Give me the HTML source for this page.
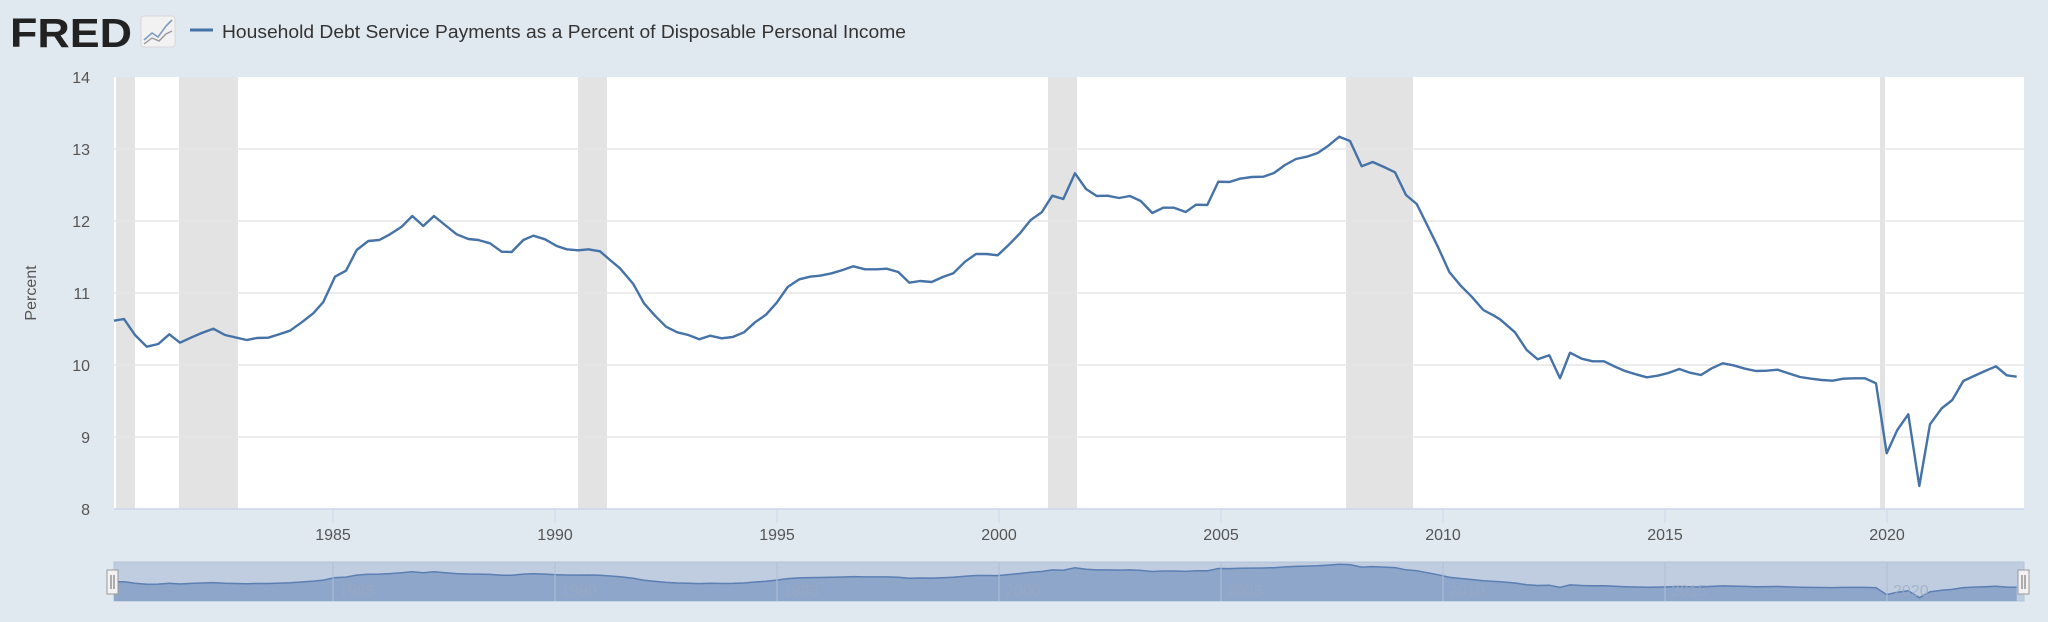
<!DOCTYPE html>
<html><head><meta charset="utf-8"><style>
html,body{margin:0;padding:0;background:#e1e9f0;width:2048px;height:622px;overflow:hidden}
svg{display:block}
text{font-family:"Liberation Sans",sans-serif}
</style></head><body>
<svg id="s" width="2048" height="622" viewBox="0 0 2048 622" xmlns="http://www.w3.org/2000/svg">
<rect width="2048" height="622" fill="#e1e9f0"/>
<!-- logo -->
<text x="10" y="47" font-size="41" font-weight="bold" fill="#222" textLength="122" lengthAdjust="spacingAndGlyphs">FRED</text>
<rect x="141" y="16" width="34" height="31" rx="3" fill="#f2f2f2" stroke="#d8d8d8"/>
<polyline points="144,40 152,33 158,37 166,26 172,20" fill="none" stroke="#7f9cc4" stroke-width="1.6"/>
<polyline points="144,44 152,38 159,41 166,34 172,31" fill="none" stroke="#999" stroke-width="1.4"/>
<line x1="190" y1="30" x2="213" y2="30" stroke="#4572a7" stroke-width="3"/>
<text x="222" y="38" font-size="18" fill="#333" textLength="684" lengthAdjust="spacingAndGlyphs">Household Debt Service Payments as a Percent of Disposable Personal Income</text>
<!-- plot -->
<rect x="114" y="77" width="1910" height="432" fill="#fff"/>
<g fill="#e3e3e3">
<rect x="116" y="77" width="19" height="432"/>
<rect x="179" y="77" width="59" height="432"/>
<rect x="578" y="77" width="29" height="432"/>
<rect x="1048" y="77" width="29" height="432"/>
<rect x="1346" y="77" width="67" height="432"/>
<rect x="1880" y="77" width="5" height="432"/>
</g>
<g stroke="#e6e6e6" stroke-width="1.5">
<line x1="114" x2="2024" y1="149" y2="149"/><line x1="114" x2="2024" y1="221" y2="221"/>
<line x1="114" x2="2024" y1="293" y2="293"/><line x1="114" x2="2024" y1="365" y2="365"/>
<line x1="114" x2="2024" y1="437" y2="437"/>
</g>
<line x1="114" x2="2024" y1="509" y2="509" stroke="#ccd6eb" stroke-width="1.5"/>
<g font-size="16" fill="#555" text-anchor="end">
<text x="90" y="83">14</text><text x="90" y="155">13</text><text x="90" y="227">12</text>
<text x="90" y="299">11</text><text x="90" y="371">10</text><text x="90" y="443">9</text><text x="90" y="515">8</text>
</g>
<text transform="translate(36,293) rotate(-90)" font-size="16" fill="#555" text-anchor="middle">Percent</text>
<g id="xt" font-size="16" fill="#555" text-anchor="middle"></g>
<path id="line" fill="none" stroke="#4572a7" stroke-width="2.4" stroke-linejoin="round"/>
<!-- navigator -->
<rect x="114" y="562" width="1910" height="39" fill="#c0cde0" stroke="#b5c3d8"/>
<path id="navarea" fill="#8ba3c8" opacity="0.95"/>
<path id="navline" fill="none" stroke="#5b7fb3" stroke-width="1.5"/>
<g id="nt" font-size="16" fill="#9aaac2" opacity="0.7"></g>
<rect x="107" y="570" width="11" height="24" fill="#f2f2f2" stroke="#999"/>
<line x1="111" y1="575" x2="111" y2="589" stroke="#666"/><line x1="114" y1="575" x2="114" y2="589" stroke="#666"/>
<rect x="2018" y="570" width="11" height="24" fill="#f2f2f2" stroke="#999"/>
<line x1="2022" y1="575" x2="2022" y2="589" stroke="#666"/><line x1="2025" y1="575" x2="2025" y2="589" stroke="#666"/>
</svg>
<script>
var z5=[[12,422],[42,417],[75,465],[110,500],[145,492],[178,463],[210,488],[245,472],[275,459],[310,446],[345,465],[410,480],[440,474],[475,473],[510,462],[540,452],[575,427],[610,400],[640,366],[675,290],[708,272],[740,210],[775,183],[808,180],[840,163],[875,140],[907,108],[940,138],[972,108],[1005,135],[1040,163],[1075,177],[1105,180],[1140,190],[1175,215],[1205,216],[1240,180],[1270,167],[1305,178],[1340,198],[1370,208],[1405,211],[1435,208],[1470,214],[1500,240]];
var z6=[[0,385],[40,432],[72,490],[105,527],[138,560],[172,577],[205,585],[238,598],[270,587],[305,595],[338,591],[372,577],[405,547],[438,524],[470,488],[503,441],[538,418],[570,410],[600,407],[635,400],[668,390],[700,379],[735,388],[770,388],[800,386],[835,396],[868,428],[900,423],[935,426],[968,411],[1000,400],[1035,365],[1068,342],[1100,342],[1133,346],[1165,316],[1200,280],[1232,240],[1265,217]];
var z7=[[97,257],[130,267],[165,190],[198,237],[230,258],[262,257],[297,264],[330,258],[362,273],[397,309],[430,293],[462,293],[497,306],[528,284],[562,285],[595,215],[628,216],[660,206],[695,201],[730,200],[762,189],[795,165],[828,147],[860,140],[893,129],[925,107],[958,80],[990,93],[1025,169],[1058,156],[1092,171],[1125,187],[1158,255],[1190,282],[1222,346],[1255,413],[1288,486],[1322,527],[1355,560],[1390,600],[1422,617]];
var z8=[[0,58],[45,97],[80,150],[113,178],[148,166],[180,235],[210,158],[245,176],[278,184],[312,184],[345,200],[375,213],[408,223],[440,232],[473,227],[505,219],[538,207],[570,218],[603,225],[635,205],[668,190],[700,196],[735,206],[768,213],[800,212],[833,209],[865,220],[900,231],[933,236],[965,240],[998,242],[1030,236],[1062,235],[1095,235],[1128,250],[1160,460],[1192,390],[1225,343],[1258,558],[1290,373],[1325,325],[1357,300],[1390,243],[1422,228],[1455,213],[1488,199],[1520,226],[1550,230]];
var P=[];
function add(a,x0,y0){a.forEach(function(p){P.push([x0+p[0]/3,y0+p[1]/3]);});}
add(z5,110,180);add(z6,620,140);add(z7,1020,110);add(z8,1500,300);
P[0][0]=114;
var d="M"+P.map(function(p){return p[0].toFixed(1)+","+p[1].toFixed(1)}).join("L");
document.getElementById("line").setAttribute("d",d);
var N=P.map(function(p){return [p[0],558.5+(p[1]-77)*0.0958]});
var nd="M"+N.map(function(p){return p[0].toFixed(1)+","+p[1].toFixed(1)}).join("L");
document.getElementById("navline").setAttribute("d",nd);
document.getElementById("navarea").setAttribute("d",nd+"L"+N[N.length-1][0].toFixed(1)+",601L114,601Z");
var ns="http://www.w3.org/2000/svg",xt=document.getElementById("xt"),nt=document.getElementById("nt"),s=document.getElementById("s");
for(var y=1985;y<=2020;y+=5){var x=333+(y-1985)*44.4;
var t=document.createElementNS(ns,"text");t.setAttribute("x",x);t.setAttribute("y",540);t.textContent=y;xt.appendChild(t);
var l=document.createElementNS(ns,"line");l.setAttribute("x1",x);l.setAttribute("x2",x);l.setAttribute("y1",509);l.setAttribute("y2",523);l.setAttribute("stroke","#ccd6eb");s.insertBefore(l,xt);
var t2=document.createElementNS(ns,"text");t2.setAttribute("x",x+6);t2.setAttribute("y",596);t2.textContent=y;nt.appendChild(t2);
var l2=document.createElementNS(ns,"line");l2.setAttribute("x1",x);l2.setAttribute("x2",x);l2.setAttribute("y1",562);l2.setAttribute("y2",601);l2.setAttribute("stroke","#b0c0d8");s.insertBefore(l2,nt);}
</script>
</body></html>
